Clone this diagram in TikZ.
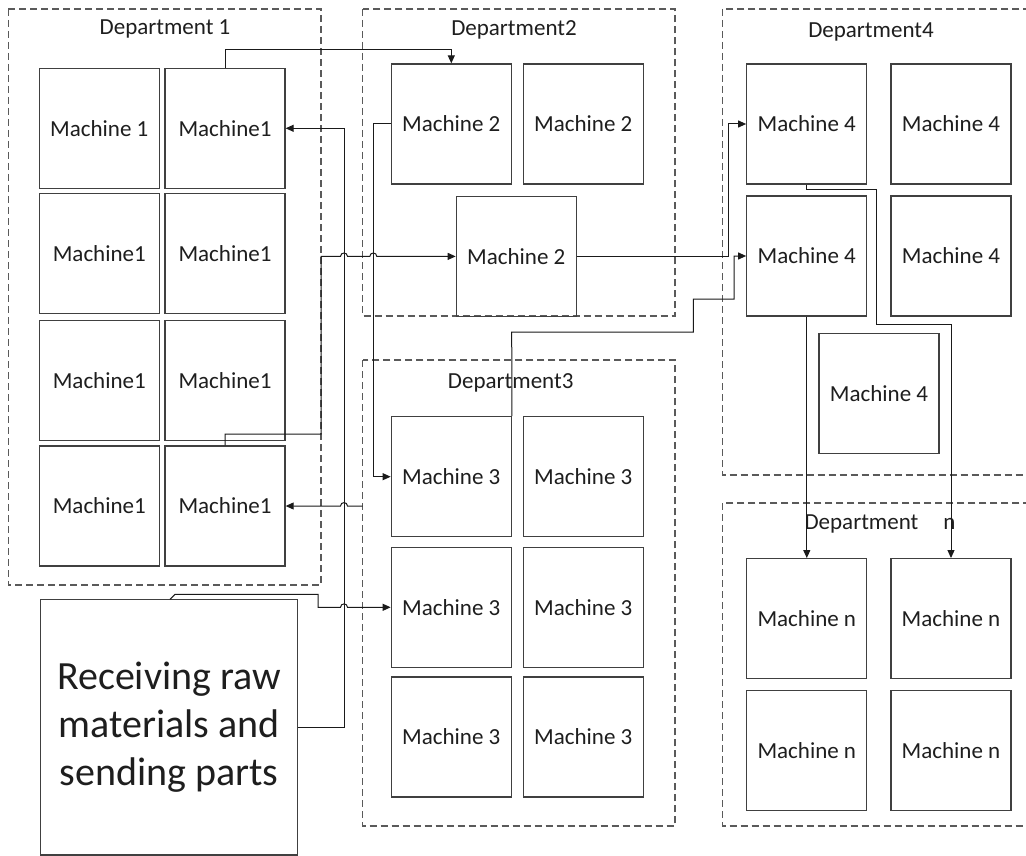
\documentclass[tikz,border=0pt]{standalone}
\usepackage{fontspec}
\setmainfont{Carlito}
\usetikzlibrary{arrows.meta}
\definecolor{boxc}{HTML}{404040}
\definecolor{dashc}{HTML}{5A5A5A}
\definecolor{linec}{HTML}{1A1A1A}
\definecolor{txt}{HTML}{1E1E1E}
\begin{document}
\begin{tikzpicture}[x=1pt,y=-1pt,
  mach/.style={draw=boxc,line width=1.3pt,minimum width=120pt,minimum height=120pt,inner sep=0pt,text=txt,font=\fontsize{23}{27}\selectfont},
  dept/.style={draw=dashc,line width=1.2pt,dash pattern=on 7pt off 4pt},
  dtitle/.style={text=txt,font=\fontsize{23}{27}\selectfont,inner sep=0pt},
  conn/.style={draw=linec,line width=1pt},
  arr/.style={conn,-{Triangle[length=8pt,width=7pt]}}]
\useasboundingbox (0,0) rectangle (1026,856);
\fill[white] (0,0) rectangle (1026,856);
\clip (0,0) rectangle (1026,856);

% departments
\draw[dept] (8.3,9) rectangle (321,585);
\draw[dept] (362.7,9) rectangle (675,316);
\draw[dept] (362.7,360) rectangle (675,826);
\draw[dept] (722.7,9) rectangle (1032,475);
\draw[dept] (722.7,503) rectangle (1032,826);

\node[dtitle] (t1) at (165,29) {Department 1};
\node[dtitle] (t2) at (514,30) {Department2};
\node[dtitle] (t3) at (510.7,383.3) {Department3};
\node[dtitle] (t4) at (871,32) {Department4};
\node[dtitle] (tn) at (880,524) {Department\hspace{25pt}n};

% department 1
\node[mach] (m1r1c1) at (99.3,128.3) {Machine 1};
\node[mach] (m1r1c2) at (225,128.3) {Machine1};
\node[mach] (m1r2c1) at (99.3,253.3) {Machine1};
\node[mach] (m1r2c2) at (225,253.3) {Machine1};
\node[mach] (m1r3c1) at (99.3,380.3) {Machine1};
\node[mach] (m1r3c2) at (225,380.3) {Machine1};
\node[mach] (m1r4c1) at (99.3,506) {Machine1};
\node[mach] (m1r4c2) at (225,506) {Machine1};

% department 2
\node[mach] (m2a) at (451.3,124) {Machine 2};
\node[mach] (m2b) at (583.3,124) {Machine 2};
\node[mach] (m2c) at (516.3,256.4) {Machine 2};

% department 3
\node[mach] (m3r1c1) at (451.3,476.7) {Machine 3};
\node[mach] (m3r1c2) at (583.3,476.7) {Machine 3};
\node[mach] (m3r2c1) at (451.3,607.3) {Machine 3};
\node[mach] (m3r2c2) at (583.3,607.3) {Machine 3};
\node[mach] (m3r3c1) at (451.3,737) {Machine 3};
\node[mach] (m3r3c2) at (583.3,737) {Machine 3};

% department 4
\node[mach] (m4a) at (806.8,124) {Machine 4};
\node[mach] (m4b) at (951,124) {Machine 4};
\node[mach] (m4c) at (806.8,256) {Machine 4};
\node[mach] (m4d) at (951,256) {Machine 4};
\node[mach] (m4e) at (879,393.3) {Machine 4};

% department n
\node[mach] (mna) at (806.8,618.7) {Machine n};
\node[mach] (mnb) at (951,618.7) {Machine n};
\node[mach] (mnc) at (806.8,750.8) {Machine n};
\node[mach] (mnd) at (951,750.8) {Machine n};

% receiving
\node[draw=boxc,line width=1.3pt,minimum width=256.6pt,minimum height=255.7pt,inner sep=0pt,
      text=txt,align=center,font=\fontsize{40}{48}\selectfont] (recv) at (169,727.2)
      {Receiving raw\\materials and\\sending parts};

% connectors
\coordinate (bx) at (344,0);
\coordinate (dx) at (373.3,0);
\coordinate (b2s) at (362.7,506);
\coordinate (es) at (170,599.3);

% A
\draw[arr] (m1r1c2.north) -- (225,50) -| (m2a.north);
% B
\draw[arr] (recv.east) -| (bx |- m1r1c2.east) -- (m1r1c2.east);
% B2 (with hop over B)
\draw[arr] (b2s) -- (347.5,506) .. controls (347.5,501.5) and (340.5,501.5) .. (340.5,506) -- (m1r4c2.east);
% C
\draw[arr] (m1r4c2.north) -- (225,434) -- (321,434) -- (321,256.4) -- (340.5,256.4)
   .. controls (340.5,251.9) and (347.5,251.9) .. (347.5,256.4) -- (369.8,256.4)
   .. controls (369.8,251.9) and (376.8,251.9) .. (376.8,256.4) -- (m2c.west);
% D
\draw[arr] (m2a.west) -| (dx |- m3r1c1.west) -- (m3r1c1.west);
% E
\draw[arr] (es) -- (175,594.3) -- (318,594.3) -- (318,607.3) -- (340.5,607.3)
   .. controls (340.5,602.8) and (347.5,602.8) .. (347.5,607.3) -- (m3r2c1.west);
% F
\draw[arr] (m3r1c1.north east) -- (511.7,332) -- (693.3,332) -- (693.3,299) -- (734,299) -- (734,256) -- (m4c.west);
% G
\draw[arr] (m2c.east) -- (728.3,256.4) -- (728.3,124) -- (m4a.west);
% H
\draw[arr] (m4a.south) -- (806.8,189.3) -- (876,189.3) -- (876,324.3) -- (951,324.3) -- (mnb.north);
% I
\draw[arr] (m4c.south) -- (mna.north);
\end{tikzpicture}
\end{document}
